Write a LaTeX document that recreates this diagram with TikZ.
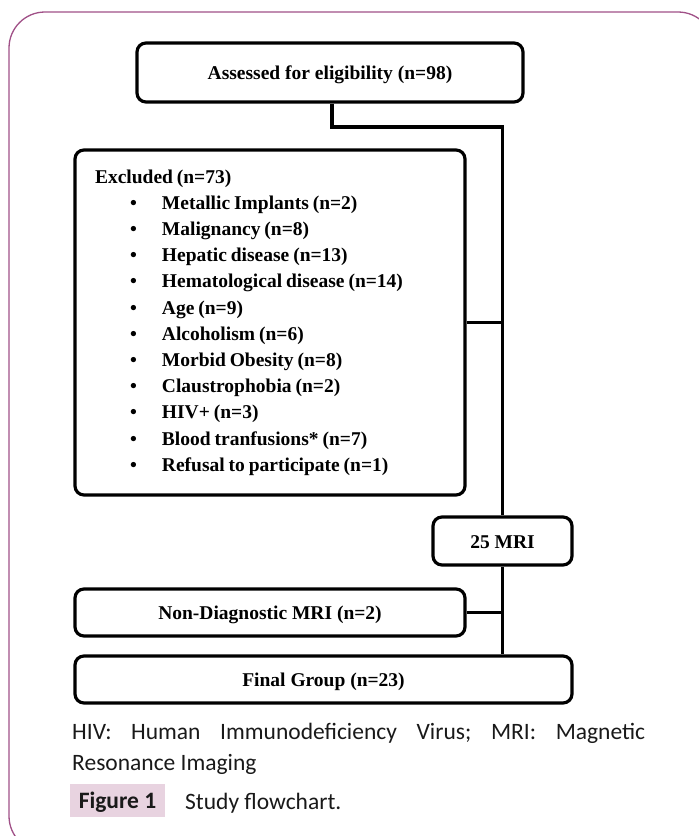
\documentclass[tikz,border=0pt]{standalone}
\usepackage{fontspec}
\setmainfont{Liberation Serif}
\newfontfamily\capfont{Carlito}
\usepackage{xcolor}
\usetikzlibrary{positioning}
\definecolor{framepink}{RGB}{160,80,135}
\definecolor{tagpink}{RGB}{232,211,224}
\newcommand{\exitem}[1]{\hspace*{35pt}\makebox[32pt][l]{\textbullet}#1}
\frenchspacing

\begin{document}
\begin{tikzpicture}[x=1pt,y=-1pt,
  flowbox/.style={draw=black, line width=3.2pt, rounded corners=9pt, inner sep=0pt,
    font=\bfseries\fontsize{19.5}{26.2}\selectfont},
  flowtext/.style={text height=14pt, text depth=0pt},
  flowline/.style={black, line width=3.2pt},
  captext/.style={anchor=base west, inner sep=0pt, text=black!90,
    font=\capfont\fontsize{23.5}{27}\selectfont}]

\clip (0,0) rectangle (699,836);

% outer frame
\draw[framepink, line width=1.3pt, rounded corners=36pt] (9,12) rectangle (714,852);

%%%%%%%%%%%%  Boxes %%%%%%%%%%%%%
\node[flowbox, flowtext, minimum width=386, minimum height=59] (assess) at (330,72.5)
{Assessed for eligibility (n=98)};

\node[flowbox, minimum width=390, minimum height=345, text width=350, align=left] (excl) at (270,322.5)
{\spaceskip=0.2em\relax
Excluded (n=73)\\
\exitem{Metallic Implants (n=2)}\\
\exitem{Malignancy (n=8)}\\
\exitem{Hepatic disease (n=13)}\\
\exitem{Hematological disease (n=14)}\\
\exitem{Age (n=9)}\\
\exitem{Alcoholism (n=6)}\\
\exitem{Morbid Obesity (n=8)}\\
\exitem{Claustrophobia (n=2)}\\
\exitem{HIV+ (n=3)}\\
\exitem{Blood tranfusions* (n=7)}\\
\exitem{Refusal to participate (n=1)}};

\node[flowbox, flowtext, minimum width=139, minimum height=48] (mri) at (502.5,541)
{25 MRI};

\node[flowbox, flowtext, minimum width=390, minimum height=47] (nondiag) at (270,612.5)
{Non-Diagnostic MRI (n=2)};

\node[flowbox, flowtext, minimum width=497, minimum height=47] (final) at (323.5,679.5)
{Final Group (n=23)};

% connectors
\coordinate (bend) at (502.5,127);
\draw[flowline] ([xshift=2pt]assess.south) |- (bend) -- (mri.north);
\draw[flowline] (excl.east) -- (excl.east -| mri.north);
\draw[flowline] (nondiag.east) -- (nondiag.east -| mri.south);
\draw[flowline] (mri.south) -- (final.north -| mri.south);

%%%%%%%%%%%%  Caption %%%%%%%%%%%%%
\node[captext] (abbr) at (72,739)
{\makebox[573pt][s]{HIV: Human Immunodeficiency Virus; MRI: Magnetic}};
\node[captext] (abbrend) at (72,770) {Resonance Imaging};

\node[fill=tagpink, minimum width=95, minimum height=33, inner sep=0pt,
  text height=15pt, text depth=0pt, text=black!90,
  font=\capfont\bfseries\fontsize{23.5}{27}\selectfont] (figtag) at (117.5,800.5) {Figure 1};
\node[captext] (figtitle) at (185,809) {Study flowchart.};

\end{tikzpicture}
\end{document}
